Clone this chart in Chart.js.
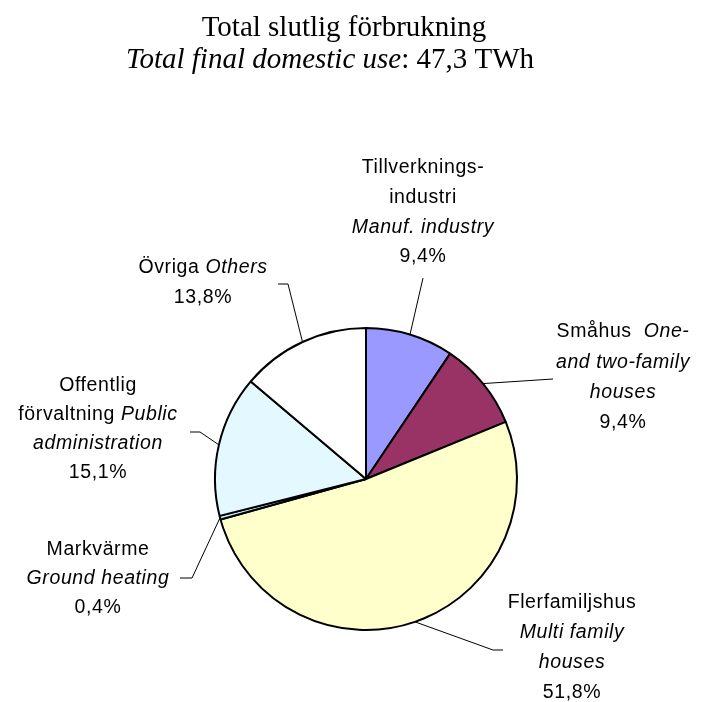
<!DOCTYPE html>
<html lang="sv">
<head>
  <meta charset="UTF-8" />
  <title>Total slutlig förbrukning</title>
  <script src="https://cdn.jsdelivr.net/npm/chart.js"></script>
  <style>
    body { margin: 0; background: #fff; }
    canvas { display: block; }
  </style>
</head>
<body>
  <canvas id="pie" width="703" height="702"></canvas>

  <script>
    // data
    const categories = ['Tillverkningsindustri', 'Småhus', 'Flerfamiljshus', 'Markvärme', 'Offentlig förvaltning', 'Övriga'];
    const shares = [9.4, 9.4, 51.8, 0.4, 15.1, 13.8];
    const colors = ['#9999FF', '#993366', '#FFFFCC', '#C2F3FF', '#E4F8FF', '#FFFFFF'];
    // label text, each line is a list of [text, italic]
    const labelText = [
      [[['Tillverknings-', false]], [['industri', false]], [['Manuf. industry', true]]],
      [[['Småhus  ', false], ['One-', true]], [['and two-family', true]], [['houses', true]]],
      [[['Flerfamiljshus', false]], [['Multi family', true]], [['houses', true]]],
      [[['Markvärme', false]], [['Ground heating', true]]],
      [[['Offentlig', false]], [['förvaltning ', false], ['Public', true]], [['administration', true]]],
      [[['Övriga ', false], ['Others', true]]]
    ];
    const titleLine1 = 'Total slutlig förbrukning';
    const titleLine2 = [['Total final domestic use', true], [': 47,3 TWh', false]];

    // where each label block sits and how its leader bends (layout only)
    const labelPos = [
      { x: 423, y: 168, step: 29.6, leader: [[423, 278]] },
      { x: 623, y: 332, step: 30.3, leader: [[553, 379]] },
      { x: 572, y: 603, step: 30, leader: [[493, 650], [503, 650]] },
      { x: 98, y: 550, step: 29, leader: [[192, 578], [180, 578]] },
      { x: 98, y: 386, step: 29, leader: [[200, 432], [190, 432]] },
      { x: 203, y: 268, step: 29.5, leader: [[288, 284], [278, 284]] }
    ];

    const pct = v => v.toFixed(1).replace('.', ',') + '%';

    function drawMixed(ctx, segs, cx, cy, family, size) {
      const fonts = segs.map(s => (s[1] ? 'italic ' : '') + size + 'px ' + family);
      let total = 0;
      const widths = segs.map((s, i) => { ctx.font = fonts[i]; const w = ctx.measureText(s[0]).width; total += w; return w; });
      let x = cx - total / 2;
      segs.forEach((s, i) => {
        ctx.font = fonts[i];
        ctx.fillText(s[0], x, cy);
        x += widths[i];
      });
    }

    const labelsPlugin = {
      id: 'labels',
      afterDraw(chart) {
        const ctx = chart.ctx;
        ctx.save();
        ctx.fillStyle = '#000';
        ctx.textAlign = 'left';

        // title
        ctx.textBaseline = 'alphabetic';
        drawMixed(ctx, [[titleLine1, false]], 344, 36, '"Liberation Serif", "Times New Roman", serif', 29);
        drawMixed(ctx, titleLine2, 330, 68, '"Liberation Serif", "Times New Roman", serif', 29);

        // leaders
        const arcs = chart.getDatasetMeta(0).data;
        ctx.strokeStyle = '#000';
        ctx.lineWidth = 1;
        arcs.forEach((arc, i) => {
          const p = arc.getProps(['x', 'y', 'startAngle', 'endAngle', 'outerRadius'], true);
          const mid = (p.startAngle + p.endAngle) / 2;
          ctx.beginPath();
          ctx.moveTo(p.x + Math.cos(mid) * p.outerRadius, p.y + Math.sin(mid) * p.outerRadius);
          labelPos[i].leader.forEach(pt => ctx.lineTo(pt[0], pt[1]));
          ctx.stroke();
        });

        // labels
        ctx.textBaseline = 'middle';
        ctx.letterSpacing = '0.6px';
        labelText.forEach((lines, i) => {
          const lp = labelPos[i];
          const all = lines.concat([[[pct(shares[i]), false]]]);
          all.forEach((segs, j) => {
            drawMixed(ctx, segs, lp.x, lp.y + j * lp.step, '"Liberation Sans", Arial, sans-serif', 19.5);
          });
        });
        ctx.restore();
      }
    };

    const chart = new Chart(document.getElementById('pie'), {
      type: 'pie',
      data: {
        labels: categories,
        datasets: [{
          data: shares,
          backgroundColor: colors,
          borderColor: '#000000',
          borderWidth: 2
        }]
      },
      options: {
        responsive: false,
        animation: false,
        layout: {
          padding: { left: 214, right: 185, top: 327, bottom: 71 }
        },
        plugins: {
          legend: { display: false },
          tooltip: { enabled: false }
        }
      },
      plugins: [labelsPlugin]
    });
  </script>
</body>
</html>
